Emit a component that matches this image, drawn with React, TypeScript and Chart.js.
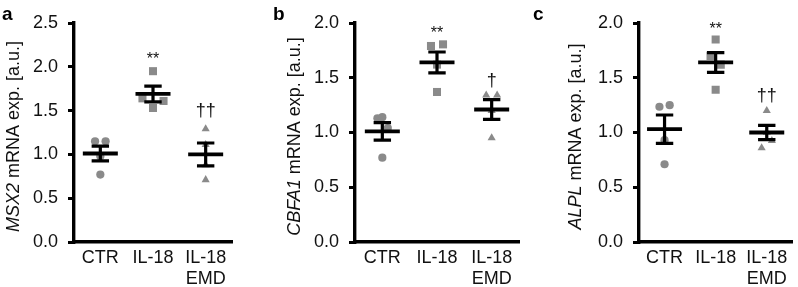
import React, { useEffect, useRef } from "react";
import { Chart, registerables } from "chart.js";

Chart.register(...registerables);

// ---------- data ----------
const xTickLabels: (string | string[])[] = ["CTR", "IL-18", ["IL-18", "EMD"]];
const yStep = 0.5;

// Panel a – MSX2
const msx2Ctr = [1.15, 1.15, 0.98, 0.77];
const msx2Il18 = [1.95, 1.64, 1.61, 1.53];
const msx2Emd = [1.29, 1.11, 0.88, 0.71];
const msx2Mean = [1.01, 1.69, 1.0];
const msx2Sem = [0.085, 0.09, 0.13];
const msx2Marks = ["", "**", "††"];
const msx2MarkY = [0, 2.13, 1.5];
const msx2Jitter = [
  [-0.1, 0.1, 0, 0],
  [0, -0.2, 0.2, 0],
  [0, 0, 0, 0],
];

// Panel b – CBFA1
const cbfa1Ctr = [1.13, 1.14, 1.04, 0.77];
const cbfa1Il18 = [1.79, 1.805, 1.62, 1.37];
const cbfa1Emd = [1.34, 1.34, 1.2, 0.95];
const cbfa1Mean = [1.01, 1.64, 1.21];
const cbfa1Sem = [0.08, 0.095, 0.09];
const cbfa1Marks = ["", "**", "†"];
const cbfa1MarkY = [0, 1.94, 1.47];
const cbfa1Jitter = [
  [-0.09, 0, 0.1, 0],
  [-0.11, 0.11, 0, 0],
  [-0.1, 0.1, 0, 0],
];

// Panel c – ALPL
const alplCtr = [1.235, 1.25, 0.93, 0.71];
const alplIl18 = [1.85, 1.7, 1.62, 1.39];
const alplEmd = [1.2, 1.0, 0.925, 0.86];
const alplMean = [1.03, 1.64, 1.0];
const alplSem = [0.13, 0.09, 0.065];
const alplMarks = ["", "**", "††"];
const alplMarkY = [0, 1.98, 1.33];
const alplJitter = [
  [-0.1, 0.1, 0, 0],
  [0, -0.1, 0.1, 0],
  [0, 0, 0.1, -0.1],
];

// ---------- styling / layout ----------
const FONT = '"Liberation Sans", Arial, Helvetica, sans-serif';
const TEXT = "#111";
const GRAY = "#8a8a8a";
const pointStyles = ["circle", "rect", "triangle"];
const pointRadii = [4.1, 5.7, 4.7];

type Panel = {
  letter: string;
  gene: string;
  yMax: number;
  series: number[][];
  jitter: number[][];
  mean: number[];
  sem: number[];
  marks: string[];
  markY: number[];
  canvasLeft: number;
  axisX: number;
  padRight: number;
  titleX: number;
  letterX: number;
};

const panels: Panel[] = [
  {
    letter: "a",
    gene: "MSX2",
    yMax: 2.5,
    series: [msx2Ctr, msx2Il18, msx2Emd],
    jitter: msx2Jitter,
    mean: msx2Mean,
    sem: msx2Sem,
    marks: msx2Marks,
    markY: msx2MarkY,
    canvasLeft: 0,
    axisX: 74,
    padRight: 34,
    titleX: 14,
    letterX: 2,
  },
  {
    letter: "b",
    gene: "CBFA1",
    yMax: 2.0,
    series: [cbfa1Ctr, cbfa1Il18, cbfa1Emd],
    jitter: cbfa1Jitter,
    mean: cbfa1Mean,
    sem: cbfa1Sem,
    marks: cbfa1Marks,
    markY: cbfa1MarkY,
    canvasLeft: 266,
    axisX: 89,
    padRight: 13,
    titleX: 29,
    letterX: 7,
  },
  {
    letter: "c",
    gene: "ALPL",
    yMax: 2.0,
    series: [alplCtr, alplIl18, alplEmd],
    jitter: alplJitter,
    mean: alplMean,
    sem: alplSem,
    marks: alplMarks,
    markY: alplMarkY,
    canvasLeft: 532,
    axisX: 107,
    padRight: 0,
    titleX: 44,
    letterX: 1,
  },
];

const W = 266;
const H = 287;
const FS = 18;

function makeOverlay(p: Panel) {
  return {
    id: "overlay" + p.letter,
    afterDatasetsDraw(chart: any) {
      const ctx = chart.ctx as CanvasRenderingContext2D;
      const xs = chart.scales.x;
      const ys = chart.scales.y;
      ctx.save();
      ctx.strokeStyle = "#000";
      ctx.lineCap = "butt";
      p.mean.forEach((m, i) => {
        const cx = xs.getPixelForValue(i);
        const my = ys.getPixelForValue(m);
        const hi = ys.getPixelForValue(m + p.sem[i]);
        const lo = ys.getPixelForValue(m - p.sem[i]);
        ctx.lineWidth = 3.2;
        ctx.beginPath();
        ctx.moveTo(cx - 8.7, hi);
        ctx.lineTo(cx + 8.7, hi);
        ctx.moveTo(cx - 8.7, lo);
        ctx.lineTo(cx + 8.7, lo);
        ctx.moveTo(cx, hi);
        ctx.lineTo(cx, lo);
        ctx.stroke();
        ctx.lineWidth = 3.8;
        ctx.beginPath();
        ctx.moveTo(cx - 17.5, my);
        ctx.lineTo(cx + 17.5, my);
        ctx.stroke();
      });
      ctx.fillStyle = TEXT;
      ctx.textAlign = "center";
      ctx.textBaseline = "middle";
      p.marks.forEach((t, i) => {
        if (!t) return;
        const isStar = t.indexOf("*") >= 0;
        ctx.font = `${isStar ? 16 : FS}px ${FONT}`;
        const yy = ys.getPixelForValue(p.markY[i]) + (isStar ? 4 : 0);
        ctx.fillText(t, xs.getPixelForValue(i), yy);
      });
      ctx.restore();
    },
    afterDraw(chart: any) {
      const ctx = chart.ctx as CanvasRenderingContext2D;
      const area = chart.chartArea;
      ctx.save();
      const italic = `italic ${FS}px ${FONT}`;
      const normal = `${FS}px ${FONT}`;
      const rest = " mRNA exp. [a.u.]";
      ctx.font = italic;
      const w1 = ctx.measureText(p.gene).width;
      ctx.font = normal;
      const w2 = ctx.measureText(rest).width;
      const total = w1 + w2;
      ctx.translate(p.titleX, (area.top + area.bottom) / 2 + 4);
      ctx.rotate(-Math.PI / 2);
      ctx.fillStyle = TEXT;
      ctx.textBaseline = "middle";
      ctx.textAlign = "left";
      ctx.font = italic;
      ctx.fillText(p.gene, -total / 2, 0);
      ctx.font = normal;
      ctx.fillText(rest, -total / 2 + w1, 0);
      ctx.restore();
      ctx.save();
      ctx.fillStyle = "#000";
      ctx.font = `bold 19px ${FONT}`;
      ctx.textAlign = "left";
      ctx.textBaseline = "alphabetic";
      ctx.fillText(p.letter, p.letterX, 20);
      ctx.restore();
    },
  };
}

function PanelChart({ p }: { p: Panel }) {
  const ref = useRef<HTMLCanvasElement | null>(null);
  useEffect(() => {
    if (!ref.current) return;
    const tickFont = { family: FONT, size: FS, lineHeight: 1.18 };
    const chart = new Chart(ref.current, {
      type: "scatter",
      data: {
        datasets: p.series.map((vals, ci) => ({
          data: vals.map((v, i) => ({ x: ci + p.jitter[ci][i], y: v })),
          pointStyle: pointStyles[ci] as any,
          pointRadius: pointRadii[ci],
          pointHoverRadius: pointRadii[ci],
          backgroundColor: GRAY,
          borderColor: GRAY,
          borderWidth: 0,
        })),
      },
      options: {
        animation: false,
        responsive: false,
        events: [],
        layout: { padding: { left: 0, top: 23, right: p.padRight, bottom: 0 } },
        plugins: {
          legend: { display: false },
          tooltip: { enabled: false },
          title: { display: false },
        },
        scales: {
          x: {
            type: "linear",
            min: -0.5,
            max: 2.5,
            afterBuildTicks: (s: any) => {
              s.ticks = [0, 1, 2].map((v) => ({ value: v }));
            },
            afterFit: (s: any) => {
              s.height = H - 242;
            },
            ticks: {
              callback: (v: any) => xTickLabels[v as number] as any,
              font: tickFont,
              color: TEXT,
              padding: 5,
              autoSkip: false,
              maxRotation: 0,
            },
            grid: { display: false, drawTicks: false },
            border: { display: true, width: 3.4, color: "#000" },
          },
          y: {
            min: 0,
            max: p.yMax,
            afterFit: (s: any) => {
              s.width = p.axisX;
            },
            ticks: {
              stepSize: yStep,
              callback: (v: any) => Number(v).toFixed(1),
              font: tickFont,
              color: TEXT,
              padding: 10,
            },
            grid: {
              display: true,
              drawOnChartArea: false,
              drawTicks: true,
              tickLength: 6,
              lineWidth: 3,
              color: "#000",
            },
            border: { display: true, width: 3.4, color: "#000" },
          },
        },
      },
      plugins: [makeOverlay(p)],
    });
    return () => chart.destroy();
  }, [p]);
  return (
    <canvas
      ref={ref}
      width={W}
      height={H}
      style={{ position: "absolute", left: p.canvasLeft, top: 0, width: W, height: H }}
    />
  );
}

export default function App() {
  return (
    <div
      style={{
        position: "fixed",
        left: 0,
        top: 0,
        width: 798,
        height: 287,
        background: "#fff",
        overflow: "hidden",
      }}
    >
      {panels.map((p) => (
        <PanelChart key={p.letter} p={p} />
      ))}
    </div>
  );
}
